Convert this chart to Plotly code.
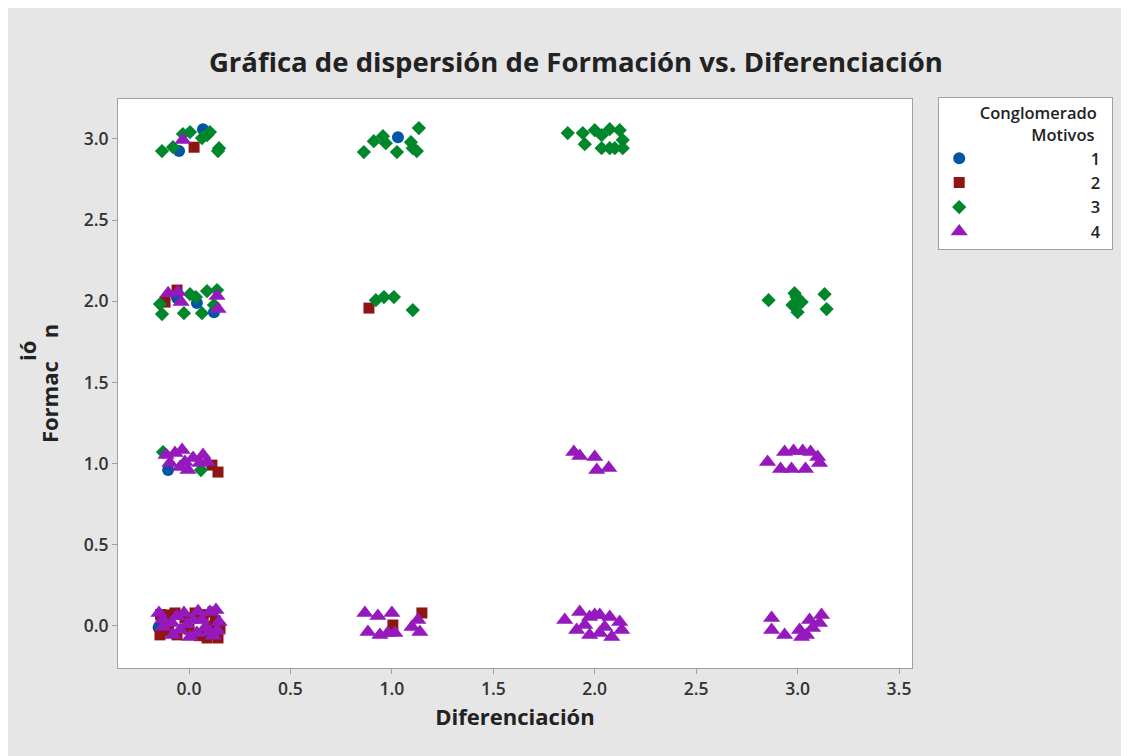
import plotly.graph_objects as go

# Motivo 1 (circles)
x_m1 = [-0.049, 0.069, 1.030, 0.039, -0.059, 0.123, -0.103, -0.150]
y_m1 = [2.925, 3.060, 3.011, 1.989, 2.020, 1.933, 0.961, -0.010]

# Motivo 2 (squares)
x_m2 = [0.025, -0.118, -0.059, 0.887, 0.143, 0.113,
        -0.143, -0.118, -0.059, 0.030, 0.089, 0.143, 0.153, 0.118, -0.069,
        -0.140, -0.100, -0.020, 0.050, 0.070, 0.130, -0.120, 0.000, 0.100,
        1.148, 1.005]
y_m2 = [2.949, 1.995, 2.069, 1.958, 0.948, 0.991,
        -0.055, 0.068, -0.055, 0.080, -0.074, -0.074, -0.012, 0.086, 0.080,
        0.070, -0.030, 0.050, -0.060, 0.070, 0.030, 0.020, -0.020, 0.000,
        0.080, 0.006]

# Motivo 3 (diamonds)
x_m3 = [-0.133, -0.079, -0.030, 0.005, 0.064, 0.103, 0.143, 0.089, 0.148,
        0.862, 0.911, 0.956, 0.970, 1.025, 1.094, 1.123, 1.133, 1.103,
        1.867, 1.941, 1.951, 2.000, 2.034, 2.074, 2.074, 2.123, 2.099, 2.138, 2.138, 2.034,
        -0.143, -0.133, -0.025, 0.005, 0.064, 0.089, 0.138, 0.123, 0.034,
        0.921, 0.961, 1.010, 1.103,
        2.857, 2.985, 3.020, 2.975, 3.000, 3.133, 3.143, 2.995,
        -0.128, 0.059]
y_m3 = [2.925, 2.949, 3.030, 3.042, 3.005, 3.042, 2.925, 3.023, 2.943,
        2.919, 2.986, 3.017, 2.974, 2.919, 2.980, 2.925, 3.067, 2.943,
        3.036, 3.036, 2.968, 3.054, 2.943, 3.060, 2.943, 3.054, 2.943, 2.993, 2.943, 3.023,
        1.983, 1.921, 1.927, 2.044, 1.927, 2.063, 2.069, 1.977, 2.026,
        2.007, 2.026, 2.026, 1.946,
        2.007, 2.050, 1.995, 1.977, 1.933, 2.044, 1.952, 2.026,
        1.071, 0.960]

# Motivo 4 (triangles)
x_m4 = [-0.030,
        -0.103, -0.054, -0.039, 0.138, 0.143,
        -0.113, -0.069, -0.034, -0.094, -0.044, -0.005, 0.020, 0.069, 0.054, 0.089, -0.020,
        1.897, 1.926, 2.000, 2.010, 2.069,
        2.852, 2.916, 2.970, 2.980, 3.025, 3.039, 3.064, 3.099, 3.108, 2.936,
        -0.148, -0.128, -0.079, -0.025, -0.044, 0.020, 0.039, 0.064, 0.103, 0.133, 0.148, 0.103, 0.005, -0.084,
        -0.060, 0.080, -0.010, 0.120, -0.130, 0.045, 0.140,
        0.867, 0.931, 1.000, 0.882, 0.941, 0.980, 1.015, 1.099, 1.138, 1.128,
        1.852, 1.926, 1.975, 2.000, 2.025, 2.074, 2.123, 1.911, 1.975, 2.025, 2.084, 2.133, 1.951, 2.049,
        2.872, 2.872, 2.936, 3.010, 3.020, 3.059, 3.074, 3.118, 3.108, 3.044]
y_m4 = [2.993,
        2.050, 2.057, 1.995, 2.032, 1.952,
        1.053, 1.065, 1.084, 1.004, 0.979, 0.961, 1.034, 1.053, 1.004, 1.010, 1.010,
        1.071, 1.047, 1.041, 0.961, 0.973,
        1.010, 0.967, 0.967, 1.078, 1.078, 0.967, 1.071, 1.041, 1.004, 1.071,
        0.080, -0.006, -0.055, 0.080, -0.025, 0.037, -0.043, 0.037, 0.086, 0.099, 0.025, -0.037, -0.068, 0.018,
        0.060, -0.010, 0.010, -0.060, 0.040, 0.090, -0.030,
        0.080, 0.062, 0.080, -0.037, -0.055, -0.043, -0.043, -0.006, -0.037, 0.037,
        0.037, 0.086, 0.055, 0.068, 0.068, 0.055, 0.025, -0.025, -0.055, -0.043, -0.068, -0.025, 0.006, -0.006,
        0.049, -0.025, -0.055, -0.025, -0.068, 0.037, -0.012, 0.068, 0.018, -0.055]

groups = ["1", "2", "3", "4"]
tick_vals_x = [0.0, 0.5, 1.0, 1.5, 2.0, 2.5, 3.0, 3.5]
tick_vals_y = [0.0, 0.5, 1.0, 1.5, 2.0, 2.5, 3.0]

series = [
    (x_m1, y_m1, "circle", "#0055a5", 12),
    (x_m2, y_m2, "square", "#8f1414", 11),
    (x_m3, y_m3, "diamond", "#00872b", 11),
    (x_m4, y_m4, "triangle-up", "#9619bd", 15),
]

FONT = "Open Sans"
NB = "\u00a0"
pad = NB * 26

fig = go.Figure()
for (xs, ys, sym, col, sz), name in zip(series, groups):
    fig.add_trace(go.Scatter(
        x=xs, y=ys, mode="markers", name=pad + name,
        marker=dict(symbol=sym, color=col, size=sz, line=dict(width=0)),
    ))

# the y title in the reference renders with the "ió" displaced
fig.add_annotation(
    text="ió", xref="paper", yref="paper", x=-0.114, y=0.558,
    xanchor="center", yanchor="middle",
    showarrow=False, textangle=-90,
    font=dict(family=FONT, size=22, color="#222", weight="bold"),
)

axis_common = dict(
    showline=True, linecolor="#a0a0a0", linewidth=1, mirror=True,
    ticks="outside", ticklen=5, tickcolor="#a0a0a0",
    showgrid=False, zeroline=False,
    tickfont=dict(family=FONT, size=17.5, color="#333", weight=600),
    tickformat=".1f",
)

fig.update_layout(
    width=1129, height=756,
    paper_bgcolor="#e6e6e6", plot_bgcolor="white",
    margin=dict(l=110, r=225, t=91, b=96),
    title=dict(
        text="Gráfica de dispersión de Formación vs. Diferenciación",
        x=0.503, xanchor="center", y=0.9286, yanchor="middle",
        font=dict(family=FONT, size=27.5, color="#222", weight="bold"),
    ),
    xaxis=dict(
        range=[-0.35, 3.564], tickvals=tick_vals_x,
        title=dict(text="Diferenciación", standoff=10,
                   font=dict(family=FONT, size=22, color="#222", weight="bold")),
        **axis_common,
    ),
    yaxis=dict(
        range=[-0.259, 3.246], tickvals=tick_vals_y,
        title=dict(text="Formac" + NB * 4 + "n", standoff=18,
                   font=dict(family=FONT, size=22, color="#222", weight="bold")),
        **axis_common,
    ),
    legend=dict(
        x=1.033, y=1.0035, xanchor="left", yanchor="top",
        bgcolor="white", bordercolor="#a0a0a0", borderwidth=1,
        title=dict(text=NB * 9 + "Conglomerado" + NB * 3 + "<br>" + NB * 21 + "Motivos",
                   side="top",
                   font=dict(family=FONT, size=16.5, color="#222", weight=600)),
        font=dict(family=FONT, size=16.5, color="#222", weight=600),
        tracegroupgap=0,
    ),
)

fig.write_html("out.html")
